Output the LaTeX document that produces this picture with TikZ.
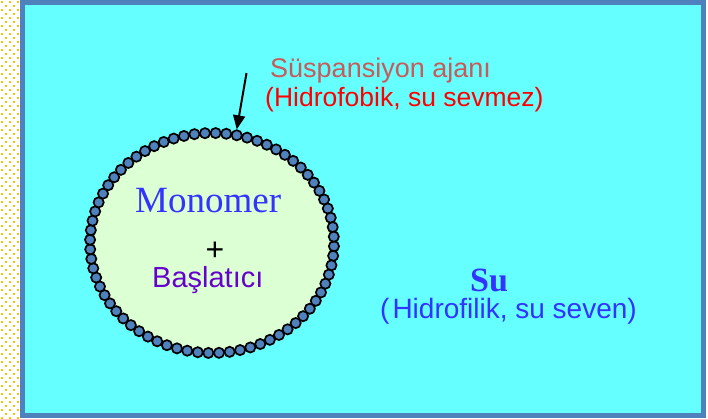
\documentclass[tikz,border=0pt]{standalone}
\usepackage{fontspec}
\setmainfont{Liberation Serif}
\newfontfamily\arialfont{Liberation Sans}
\usetikzlibrary{arrows.meta,shapes.geometric}
\definecolor{bgcyan}{RGB}{102,255,255}
\definecolor{framblue}{RGB}{79,129,189}
\definecolor{beadblue}{RGB}{79,129,189}
\definecolor{dropgreen}{RGB}{220,255,212}
\definecolor{dotorange}{RGB}{255,192,0}
\definecolor{txtblue}{RGB}{51,51,255}
\definecolor{txtpurple}{RGB}{102,0,204}
\definecolor{txtrose}{RGB}{200,90,90}
\definecolor{txtred}{RGB}{255,0,0}
\begin{document}
\begin{tikzpicture}[x=1pt,y=-1pt,
  lbl/.style={inner sep=0pt,anchor=base west},
  bead/.style={circle,draw=black,line width=1.7pt,fill=beadblue,minimum size=10.2pt,inner sep=0pt},
  pointer/.style={-{Triangle[width=12pt,length=14pt]},line width=2pt,draw=black}]
\useasboundingbox (0,0) rectangle (708,418);
\fill[white] (0,0) rectangle (708,418);
% dotted strip
\foreach \j in {0,...,104}{
  \pgfmathtruncatemacro{\off}{mod(\j,2)*4}
  \foreach \i in {0,1,2}{
    \pgfmathsetmacro{\xx}{1+8*\i+\off}
    \ifdim\xx pt<18pt
      \fill[dotorange] (\xx,{1+4*\j}) rectangle ++(2,2);
    \fi
  }
}
% frame
\fill[bgcyan] (22.3,2.2) rectangle (703.4,415.6);
\draw[framblue,line width=5pt] (22.3,2.2) rectangle (703.4,415.6);
% droplet
\node[ellipse,fill=dropgreen,minimum width=244pt,minimum height=220pt,inner sep=0pt] (drop) at (212,243) {};
\foreach \i in {0,...,71}{
  \pgfmathsetmacro{\ang}{1.7+\i*5}
  \node[bead] (bead-\i) at ({212+122*cos(\ang)},{243+110*sin(\ang)}) {};
}
% texts
\node[lbl,font=\arialfont\fontsize{27}{30}\selectfont,text=txtrose] (susp) at (270,77) {Süspansiyon ajanı};
\node[lbl,font=\arialfont\fontsize{26.5}{30}\selectfont,text=txtred] (hfob) at (265,106) {(Hidrofobik, su sevmez)};
\node[lbl,font=\fontsize{37}{40}\selectfont,text=txtblue] (mono) at (135,212) {Monomer};
\node[inner sep=0pt,font=\arialfont\fontsize{32}{34}\selectfont,text=black] (plus) at (215,251) {+};
\node[lbl,font=\arialfont\fontsize{29}{32}\selectfont,text=txtpurple] (basl) at (152,287) {Başlatıcı};
\node[lbl,font=\bfseries\fontsize{34}{36}\selectfont,text=txtblue] (su) at (470,291) {Su};
\node[lbl,font=\arialfont\fontsize{28}{30}\selectfont,text=txtblue] (hfil) at (380,318) {(\kern3pt Hidrofilik, su seven)};
% pointer
\coordinate (ptrstart) at (246.5,73);
\draw[pointer] (ptrstart) -- (bead-56.north);
\end{tikzpicture}
\end{document}
